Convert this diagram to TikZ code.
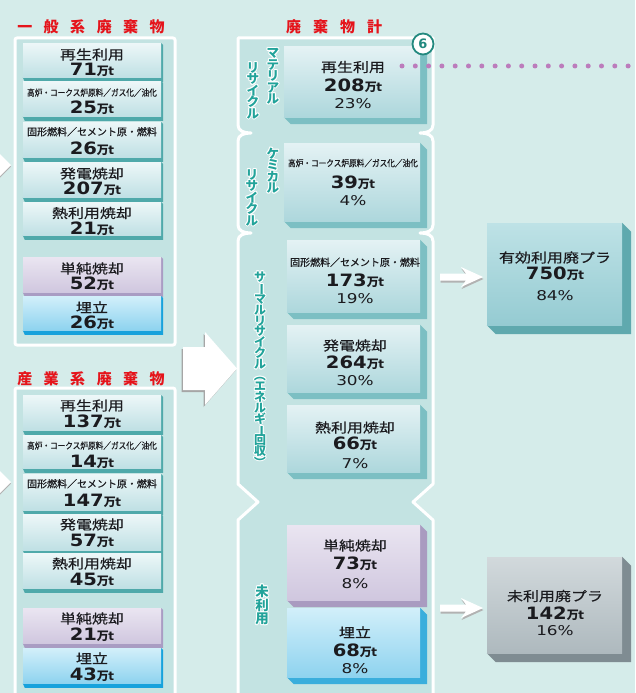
\documentclass[tikz,border=0pt]{standalone}
\usepackage{fontspec}
\usepackage{graphicx}
\newfontfamily\jp{Noto Sans CJK JP}
\newfontfamily\jpm{Noto Sans CJK JP}[FakeBold=0.5]
\newfontfamily\dv{DejaVu Sans}
\usetikzlibrary{calc}
\pgfdeclarelayer{bg}
\pgfdeclarelayer{shadow}
\pgfsetlayers{bg,shadow,main}
\definecolor{bgc}{HTML}{D5ECEA}
\definecolor{panelc}{HTML}{C3E3E2}
\definecolor{tealtop}{HTML}{EDF7F8}
\definecolor{tealbot}{HTML}{BFE0E4}
\definecolor{tealbar}{HTML}{4FA9AA}
\definecolor{lavtop}{HTML}{EAE5F1}
\definecolor{lavbot}{HTML}{D0C7DF}
\definecolor{lavbar}{HTML}{A99CC3}
\definecolor{bluetop}{HTML}{D2EFFA}
\definecolor{bluebot}{HTML}{8ED3EF}
\definecolor{bluebar}{HTML}{17A2DC}
\definecolor{mtealtop}{HTML}{E4F2F4}
\definecolor{mtealbot}{HTML}{ADD7DC}
\definecolor{mtealside}{HTML}{7CBFC3}
\definecolor{mlavside}{HTML}{A99BC0}
\definecolor{mblueside}{HTML}{3AAEDC}
\definecolor{efftop}{HTML}{BEE2E6}
\definecolor{effbot}{HTML}{95CBD2}
\definecolor{effside}{HTML}{5FA9AE}
\definecolor{graytop}{HTML}{D2D9DC}
\definecolor{graybot}{HTML}{AEB9BE}
\definecolor{grayside}{HTML}{7F8C92}
\definecolor{titlered}{HTML}{E5141B}
\definecolor{vteal}{HTML}{22A39A}
\definecolor{dotc}{HTML}{BC7CBC}
\definecolor{circc}{HTML}{23897F}
\definecolor{ink}{HTML}{1B1B1F}
% text helpers
\newcommand\lab[1]{\scalebox{1}[0.82]{\jpm\fontsize{16}{16}\selectfont #1}}
\newcommand\slab[1]{\scalebox{0.85}[1]{\jpm\fontsize{9}{9}\selectfont #1}}
\newcommand\mlab[1]{{\jpm\fontsize{10}{10}\selectfont #1}}
\newcommand\num[1]{\scalebox{1.15}[1]{\dv\bfseries\fontsize{17}{17}\selectfont #1}}
\newcommand\unt{{\jp\bfseries\fontsize{12}{12}\selectfont 万}\hspace{-0.5pt}{\dv\bfseries\fontsize{12}{12}\selectfont t}}
\newcommand\pct[1]{\scalebox{1.25}[1]{\dv\fontsize{13.5}{13.5}\selectfont #1}}
\newcommand\vb{\rotatebox[origin=c]{-90}{ー}}
\newcommand\vlp{\rotatebox[origin=c]{-90}{（}}
\newcommand\vrp{\rotatebox[origin=c]{-90}{）}}
% vertical stack of characters: font size, pitch, rows separated by \cr
\newcommand\vst[3]{\vbox{\jp\bfseries\fontsize{#1}{#2}\selectfont\baselineskip=#2pt\lineskiplimit=-20pt\relax\halign{\hfil##\hfil\cr#3}}}
% vertical text with a white halo: name, x, y, content
\newcommand{\halonode}[4]{%
  \foreach \a in {0,45,...,315} {\node[vtxt,text=white] (#1h\a) at ($(#2,#3)+(\a:1)$) {#4};}
  \node[vtxt] (#1) at (#2,#3) {#4};
}
% left box: name, top, height, face style, bar colour, label baseline offset, label, number
\newcommand{\lbox}[8]{%
  \node[face,#4,minimum width=138pt,minimum height=#3pt,anchor=north] (#1) at (92,#2) {};
  \begin{pgfonlayer}{shadow}
    \fill[#5] (#1.north east) -- ++(2,2) -- ($(#1.south east)+(2,4.5)$) -- ($(#1.south west)+(2,4.5)$) -- (#1.south west) -- cycle;
  \end{pgfonlayer}
  \node[txt,anchor=base] (#1l) at ($(#1.north)+(0,#6)$) {#7};
  \node[txt,anchor=base] (#1n) at ($(#1.north)+(0,32)$) {\num{#8}\unt};
}
% 3D block: name, x1, y1, x2, y2, face style, side colour, depth
\newcommand{\blk}[8]{%
  \node[face,#6,minimum width={(#4-#2)*1pt},minimum height={(#5-#3)*1pt}] (#1) at ({(#2+#4)/2},{(#3+#5)/2}) {};
  \begin{pgfonlayer}{shadow}
    \fill[#7] (#1.north east) -- ++(#8,#8) -- ($(#1.south east)+(#8,#8)$) -- ($(#1.south west)+(#8,#8)$) -- (#1.south west) -- cycle;
  \end{pgfonlayer}
}
% three text lines: name, cx, b1, b2, b3, label, number, percent
\newcommand{\tri}[8]{%
  \node[txt,anchor=base] (#1l) at (#2,#3) {#6};
  \node[txt,anchor=base] (#1n) at (#2,#4) {\num{#7}\unt};
  \node[txt,anchor=base] (#1p) at (#2,#5) {\pct{#8}};
}
\begin{document}
\begin{tikzpicture}[x=1pt,y=-1pt,
  face/.style={draw=none,inner sep=0pt},
  tealf/.style={top color=tealtop,bottom color=tealbot},
  lavf/.style={top color=lavtop,bottom color=lavbot},
  bluef/.style={top color=bluetop,bottom color=bluebot},
  mtealf/.style={top color=mtealtop,bottom color=mtealbot},
  efff/.style={top color=efftop,bottom color=effbot},
  grayf/.style={top color=graytop,bottom color=graybot},
  txt/.style={inner sep=0pt,text=ink},
  panel/.style={fill=panelc,draw=white,line width=3pt,line join=round},
  title/.style={inner sep=0pt,text=titlered,font=\jp\bfseries\fontsize{15}{15}\selectfont},
  vtxt/.style={inner sep=0pt,text=vteal},
]
\useasboundingbox (0,0) rectangle (635,693);
\begin{pgfonlayer}{bg}
  \fill[bgc] (0,0) rectangle (635,693);
  \draw[panel,rounded corners=2pt] (15,38) rectangle (175,345);
  \draw[panel,rounded corners=2pt] (15,388) rectangle (175,703);
  \draw[panel] (238,38) -- (433,38) -- (433,125)
    .. controls (433,131) and (427,133) .. (420,133)
    .. controls (427,133) and (433,135) .. (433,141) -- (433,225)
    .. controls (433,231) and (427,233) .. (420,233)
    .. controls (427,233) and (433,235) .. (433,241) -- (433,484) -- (413,502) -- (433,520) -- (433,703)
    -- (238,703) -- (238,520) -- (258,502) -- (238,484) -- (238,241)
    .. controls (238,235) and (244,233) .. (251,233)
    .. controls (244,233) and (238,231) .. (238,225) -- (238,141)
    .. controls (238,135) and (244,133) .. (251,133)
    .. controls (244,133) and (238,131) .. (238,125) -- cycle;
\end{pgfonlayer}

% titles
\node[title] (t1) at (91,27) {一\hspace{11.5pt}般\hspace{11.5pt}系\hspace{11.5pt}廃\hspace{11.5pt}棄\hspace{11.5pt}物};
\node[title] (t2) at (91,379) {産\hspace{11.5pt}業\hspace{11.5pt}系\hspace{11.5pt}廃\hspace{11.5pt}棄\hspace{11.5pt}物};
\node[title] (t3) at (334,27) {廃\hspace{12pt}棄\hspace{12pt}物\hspace{12pt}計};

% left panel 1
\lbox{g1}{43}{34}{tealf}{tealbar}{16.5}{\lab{再生利用}}{71}
\lbox{g2}{81}{35}{tealf}{tealbar}{15}{\slab{高炉・コークス炉原料／ガス化／油化}}{25}
\lbox{g3}{122}{35}{tealf}{tealbar}{13.5}{\mlab{固形燃料／セメント原・燃料}}{26}
\lbox{g4}{162}{35}{tealf}{tealbar}{16.5}{\lab{発電焼却}}{207}
\lbox{g5}{202}{33}{tealf}{tealbar}{16}{\lab{熱利用焼却}}{21}
\lbox{g6}{257}{35}{lavf}{lavbar}{16.5}{\lab{単純焼却}}{52}
\lbox{g7}{296}{34}{bluef}{bluebar}{16.5}{\lab{埋立}}{26}

% left panel 2
\lbox{s1}{395}{35}{tealf}{tealbar}{15.5}{\lab{再生利用}}{137}
\lbox{s2}{435}{33}{tealf}{tealbar}{14}{\slab{高炉・コークス炉原料／ガス化／油化}}{14}
\lbox{s3}{474}{36}{tealf}{tealbar}{13.5}{\mlab{固形燃料／セメント原・燃料}}{147}
\lbox{s4}{514}{36}{tealf}{tealbar}{15.5}{\lab{発電焼却}}{57}
\lbox{s5}{553}{35}{tealf}{tealbar}{15.5}{\lab{熱利用焼却}}{45}
\lbox{s6}{608}{35}{lavf}{lavbar}{15.5}{\lab{単純焼却}}{21}
\lbox{s7}{648}{35}{bluef}{bluebar}{15.5}{\lab{埋立}}{43}

% middle column blocks
\blk{m1}{284}{47}{420}{117}{mtealf}{mtealside}{7}
\tri{m1}{353}{72}{91}{108}{\lab{再生利用}}{208}{23\%}
\blk{m2}{284}{143}{420}{221}{mtealf}{mtealside}{7}
\tri{m2}{353}{166.5}{188}{205}{\slab{高炉・コークス炉原料／ガス化／油化}}{39}{4\%}
\blk{m3}{287}{240}{420}{312}{mtealf}{mtealside}{7}
\tri{m3}{355}{266}{286}{303}{\mlab{固形燃料／セメント原・燃料}}{173}{19\%}
\blk{m4}{287}{325}{420}{392}{mtealf}{mtealside}{7}
\tri{m4}{355}{350.5}{368}{385}{\lab{発電焼却}}{264}{30\%}
\blk{m5}{287}{405}{420}{472}{mtealf}{mtealside}{7}
\tri{m5}{355}{432.5}{449}{468}{\lab{熱利用焼却}}{66}{7\%}
\blk{m6}{287}{525}{420}{600}{lavf}{mlavside}{7}
\tri{m6}{355}{550.5}{569}{588}{\lab{単純焼却}}{73}{8\%}
\blk{m7}{287}{608}{420}{677}{bluef}{mblueside}{7}
\tri{m7}{355}{637.5}{656}{673}{\lab{埋立}}{68}{8\%}

% right column blocks
\blk{r1}{487}{223}{622}{325}{efff}{effside}{9}
\tri{r1}{555}{262.5}{279}{300}{\lab{有効利用廃プラ}}{750}{84\%}
\blk{r2}{487}{557}{622}{653}{grayf}{grayside}{9}
\tri{r2}{555}{601}{619}{635.5}{\lab{未利用廃プラ}}{142}{16\%}

% vertical labels
\halonode{v1}{273}{76.5}{\vst{12.6}{11.5}{マ\cr テ\cr リ\cr ア\cr ル\cr}}
\halonode{v2}{253}{90.5}{\vst{12.6}{11.5}{リ\cr サ\cr イ\cr ク\cr ル\cr}}
\halonode{v3}{273}{170.5}{\vst{12.6}{11.5}{ケ\cr ミ\cr カ\cr ル\cr}}
\halonode{v4}{252}{197.5}{\vst{12.6}{11.5}{リ\cr サ\cr イ\cr ク\cr ル\cr}}
\halonode{v5}{260}{370}{\vst{12}{10.9}{サ\cr \vb\cr マ\cr ル\cr リ\cr サ\cr イ\cr ク\cr ル\cr \vlp\cr エ\cr ネ\cr ル\cr ギ\cr \vb\cr 回\cr 収\cr \vrp\cr}}
\halonode{v6}{262}{605}{\vst{13.5}{13.5}{未\cr 利\cr 用\cr}}

% dotted line and circled number
\coordinate (dotA) at (402,66);
\coordinate (dotB) at (640,66);
\draw[dotc,line width=5pt,line cap=round,dash pattern=on 0pt off 13.3pt] (dotA) -- (dotB);
\node[circle,draw=circc,line width=1.8pt,fill=white,minimum size=21pt,inner sep=0pt,text=circc,font=\dv\bfseries\fontsize{13}{13}\selectfont] (c6) at (423,44) {6};

% big arrow
\coordinate (ba) at (183,368.5);
\fill[black!35,shift={($(ba)+(-1.5,2)$)}] (0,-21.5) -- (22,-21.5) -- (22,-36.5) -- (54,0) -- (22,36.5) -- (22,21.5) -- (0,21.5) -- cycle;
\fill[white,shift={(ba)}] (0,-21.5) -- (22,-21.5) -- (22,-36.5) -- (54,0) -- (22,36.5) -- (22,21.5) -- (0,21.5) -- cycle;

% small arrows to the right column
\coordinate (ar1) at (440,277);
\coordinate (ar2) at (440,608);
\foreach \c in {ar1,ar2} {
  \fill[black!30,shift={($(\c)+(0.5,2)$)}] (0,-3.5) -- (26,-3.5) -- (21,-10) -- (43,0) -- (21,10) -- (26,3.5) -- (0,3.5) -- cycle;
  \fill[white,shift={(\c)}] (0,-3.5) -- (26,-3.5) -- (21,-10) -- (43,0) -- (21,10) -- (26,3.5) -- (0,3.5) -- cycle;
}

% arrow tips at left edge
\coordinate (la1) at (0,165);
\coordinate (la2) at (0,482);
\foreach \c in {la1,la2} {
  \fill[black!30,shift={($(\c)+(0,1.5)$)}] (-2,-13) -- (11,0) -- (-2,13) -- cycle;
  \fill[white,shift={(\c)}] (-2,-13) -- (11,0) -- (-2,13) -- cycle;
}
\end{tikzpicture}
\end{document}
